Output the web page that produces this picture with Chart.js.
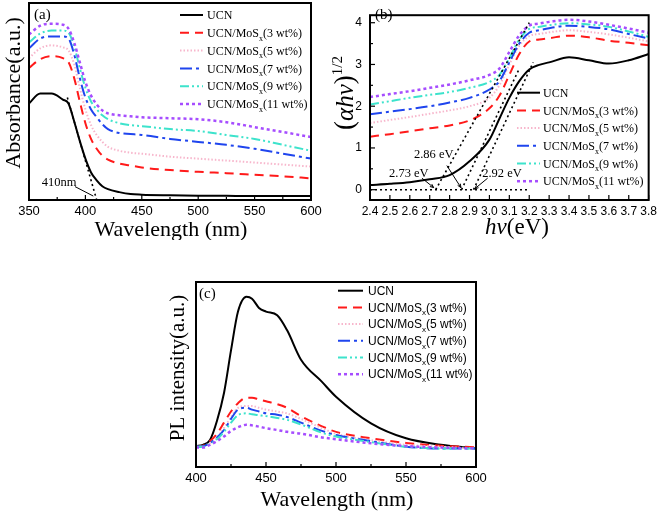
<!DOCTYPE html>
<html>
<head>
<meta charset="utf-8">
<script src="https://cdn.jsdelivr.net/npm/chart.js@4.4.1/dist/chart.umd.min.js"></script>
<style>
body { margin: 0; background: #fff; width: 661px; height: 513px; position: relative; overflow: hidden; }
canvas { position: absolute; }
</style>
</head>
<body>
<canvas id="chartA" width="330" height="240" style="left:0;top:0"></canvas>
<canvas id="chartB" width="331" height="240" style="left:330px;top:0"></canvas>
<canvas id="chartC" width="360" height="263" style="left:150px;top:250px"></canvas>
<script>
// --- data ---
const loadings = [null, 3, 5, 7, 9, 11];

// (a) UV-vis absorbance
const absWavelength = [350, 360, 370, 380, 385, 390, 395, 400, 405, 410, 415, 420, 430, 440, 450, 475, 500, 525, 550, 575, 600];
const absUCN  = [0.49, 0.54, 0.54, 0.51, 0.49, 0.40, 0.30, 0.21, 0.14, 0.10, 0.07, 0.055, 0.04, 0.03, 0.027, 0.024, 0.022, 0.021, 0.02, 0.02, 0.02];
const abs3wt  = [0.67, 0.715, 0.73, 0.72, 0.70, 0.62, 0.50, 0.39, 0.31, 0.26, 0.225, 0.205, 0.185, 0.175, 0.165, 0.152, 0.143, 0.136, 0.128, 0.12, 0.11];
const abs5wt  = [0.72, 0.77, 0.785, 0.775, 0.76, 0.69, 0.57, 0.46, 0.38, 0.33, 0.295, 0.27, 0.25, 0.24, 0.235, 0.22, 0.21, 0.2, 0.19, 0.18, 0.17];
const abs7wt  = [0.77, 0.82, 0.83, 0.83, 0.82, 0.74, 0.62, 0.52, 0.46, 0.42, 0.385, 0.36, 0.34, 0.335, 0.33, 0.31, 0.295, 0.28, 0.26, 0.235, 0.21];
const abs9wt  = [0.80, 0.845, 0.86, 0.86, 0.85, 0.78, 0.67, 0.57, 0.50, 0.46, 0.43, 0.41, 0.39, 0.38, 0.375, 0.36, 0.35, 0.33, 0.31, 0.28, 0.25];
const abs11wt = [0.84, 0.885, 0.895, 0.89, 0.87, 0.80, 0.70, 0.60, 0.53, 0.485, 0.455, 0.44, 0.43, 0.425, 0.42, 0.415, 0.41, 0.395, 0.37, 0.345, 0.32];
const absTicks = [350, 400, 450, 500, 550, 600];
const absMinor = [375, 425, 475, 525, 575];
const absEdgeLine = [[384, 0.52], [410, 0]];
const absEdgeArrow = [[390.8, 0.068], [407, 0.02]];
const absEdgeLabel = { text: '410nm', at: [376.6, 0.086] };

// (b) Tauc plot
const tauEnergy = [2.4, 2.5, 2.6, 2.7, 2.8, 2.9, 3.0, 3.05, 3.1, 3.15, 3.2, 3.25, 3.3, 3.4, 3.5, 3.6, 3.7, 3.8];
const tauUCN  = [0.11, 0.14, 0.18, 0.25, 0.35, 0.68, 1.2, 1.7, 2.2, 2.6, 2.88, 2.99, 3.05, 3.17, 3.1, 3.02, 3.1, 3.25];
const tau3wt  = [1.27, 1.33, 1.40, 1.47, 1.54, 1.66, 1.95, 2.25, 2.75, 3.25, 3.55, 3.6, 3.63, 3.69, 3.65, 3.57, 3.52, 3.46];
const tau5wt  = [1.6, 1.67, 1.74, 1.82, 1.9, 2.0, 2.2, 2.5, 3.0, 3.45, 3.68, 3.73, 3.77, 3.82, 3.78, 3.72, 3.64, 3.55];
const tau7wt  = [1.81, 1.87, 1.93, 2.0, 2.09, 2.2, 2.4, 2.6, 3.05, 3.5, 3.76, 3.82, 3.87, 3.93, 3.9, 3.84, 3.73, 3.62];
const tau9wt  = [2.04, 2.12, 2.2, 2.27, 2.34, 2.44, 2.58, 2.75, 3.15, 3.6, 3.85, 3.9, 3.94, 3.99, 3.96, 3.9, 3.79, 3.66];
const tau11wt = [2.22, 2.29, 2.36, 2.44, 2.52, 2.62, 2.75, 2.9, 3.3, 3.7, 3.93, 3.98, 4.02, 4.07, 4.03, 3.95, 3.86, 3.76];
const tauXTicks = [2.4, 2.5, 2.6, 2.7, 2.8, 2.9, 3.0, 3.1, 3.2, 3.3, 3.4, 3.5, 3.6, 3.7, 3.8];
const tauYTicks = [0, 1, 2, 3, 4];
const tauBaseline = [[2.4, 0], [3.2, 0]];
const tauTangents = [[[2.73, 0], [3.2, 4.0]], [[2.86, 0], [3.15, 2.9]], [[2.92, 0], [3.22, 3.05]]];
const tauGapLabels = ['2.73 eV', '2.86 eV', '2.92 eV'];
const tauGapLabelAt = [[2.595, 0.39], [2.72, 0.84], [3.063, 0.39]];
const tauGapArrows = [[[2.661, 0.276], [2.72, 0.05]], [[2.786, 0.578], [2.857, 0.05]], [[2.991, 0.276], [2.926, 0.02]]];

// (c) PL spectra
const plWavelength = [400, 405, 410, 415, 420, 425, 430, 436, 440, 445, 450, 458, 465, 475, 490, 500, 525, 550, 575, 600];
const plUCN  = [0.113, 0.12, 0.146, 0.25, 0.40, 0.63, 0.84, 0.92, 0.91, 0.86, 0.84, 0.82, 0.74, 0.58, 0.46, 0.38, 0.236, 0.155, 0.12, 0.10];
const pl3wt  = [0.11, 0.115, 0.14, 0.18, 0.24, 0.30, 0.345, 0.375, 0.375, 0.365, 0.355, 0.34, 0.32, 0.275, 0.22, 0.19, 0.155, 0.13, 0.115, 0.107];
const pl5wt  = [0.11, 0.112, 0.13, 0.16, 0.21, 0.27, 0.32, 0.33, 0.33, 0.32, 0.31, 0.30, 0.29, 0.26, 0.21, 0.18, 0.145, 0.12, 0.11, 0.10];
const pl7wt  = [0.11, 0.112, 0.13, 0.16, 0.20, 0.26, 0.31, 0.32, 0.31, 0.30, 0.29, 0.283, 0.27, 0.24, 0.195, 0.173, 0.14, 0.11, 0.10, 0.10];
const pl9wt  = [0.11, 0.11, 0.125, 0.15, 0.19, 0.24, 0.28, 0.29, 0.285, 0.28, 0.275, 0.265, 0.255, 0.23, 0.185, 0.165, 0.135, 0.11, 0.10, 0.10];
const pl11wt = [0.105, 0.105, 0.12, 0.14, 0.165, 0.195, 0.215, 0.228, 0.225, 0.218, 0.21, 0.20, 0.19, 0.18, 0.16, 0.15, 0.128, 0.113, 0.105, 0.10];
const plTicks = [400, 450, 500, 550, 600];
const plMinor = [425, 475, 525, 575];

// --- styles ---
const SERIF = '"Liberation Serif", "DejaVu Serif", serif';
const SANS = '"Liberation Sans", Arial, sans-serif';
const lineStyles = [
  { color: '#000000', dash: [], width: 2 },
  { color: '#ff1a1a', dash: [9, 6], width: 2 },
  { color: '#f7b6cc', dash: [1.5, 2], width: 2 },
  { color: '#1f45ee', dash: [12, 4, 3, 4], width: 2 },
  { color: '#3de3cc', dash: [9, 3, 2, 3, 2, 3], width: 2 },
  { color: '#a64dff', dash: [3, 3], width: 2.5 }
];

function makeDatasets(xs, seriesList) {
  return seriesList.map((ys, i) => ({
    data: xs.map((x, j) => ({ x: x, y: ys[j] })),
    borderColor: lineStyles[i].color,
    borderDash: lineStyles[i].dash,
    borderWidth: lineStyles[i].width,
    pointRadius: 0,
    fill: false,
    cubicInterpolationMode: 'monotone',
    order: seriesList.length - i
  }));
}

// draws a run of text pieces (for subscripts / italics)
function drawRich(ctx, parts, x, y, align) {
  let total = 0;
  parts.forEach(p => { ctx.font = p.font; total += ctx.measureText(p.t).width; });
  let cx = align === 'center' ? x - total / 2 : x;
  ctx.textAlign = 'left';
  ctx.textBaseline = 'alphabetic';
  parts.forEach(p => {
    ctx.font = p.font;
    ctx.fillText(p.t, cx, y + (p.dy || 0));
    cx += ctx.measureText(p.t).width;
  });
}

function legendParts(i, family, size) {
  if (loadings[i] === null) return [{ t: 'UCN', font: size + 'px ' + family }];
  return [
    { t: 'UCN/MoS', font: size + 'px ' + family },
    { t: 'x', font: Math.round(size * 0.65) + 'px ' + family, dy: size * 0.3 },
    { t: '(' + loadings[i] + ' wt%)', font: size + 'px ' + family }
  ];
}

const framePlugin = {
  id: 'frame',
  afterDatasetsDraw(chart, args, opts) {
    const { ctx, chartArea: a, scales } = chart;
    ctx.save();
    ctx.strokeStyle = '#000';
    ctx.lineWidth = 1.2;
    const tick = (vals, len, axis) => vals.forEach(v => {
      ctx.beginPath();
      if (axis === 'x') {
        const px = scales.x.getPixelForValue(v);
        ctx.moveTo(px, a.bottom); ctx.lineTo(px, a.bottom - len);
      } else {
        const py = scales.y.getPixelForValue(v);
        ctx.moveTo(a.left, py); ctx.lineTo(a.left + len, py);
      }
      ctx.stroke();
    });
    tick(opts.xMajor || [], 5, 'x');
    tick(opts.xMinor || [], 3, 'x');
    tick(opts.yMajor || [], 5, 'y');
    tick(opts.yMinor || [], 3, 'y');
    ctx.lineWidth = 2;
    ctx.strokeRect(a.left, a.top, a.right - a.left, a.bottom - a.top);
    ctx.restore();
  }
};

const legendPlugin = {
  id: 'richLegend',
  afterDraw(chart, args, o) {
    const ctx = chart.ctx;
    ctx.save();
    chart.data.datasets.forEach((ds, i) => {
      const y = o.y + i * o.dy;
      ctx.beginPath();
      ctx.strokeStyle = ds.borderColor;
      ctx.lineWidth = ds.borderWidth;
      ctx.setLineDash(ds.borderDash);
      ctx.moveTo(o.x0, y); ctx.lineTo(o.x1, y);
      ctx.stroke();
      ctx.setLineDash([]);
      ctx.fillStyle = '#000';
      drawRich(ctx, legendParts(i, o.family, o.size), o.tx, y + o.size * 0.35, 'left');
    });
    ctx.restore();
  }
};

const titlesPlugin = {
  id: 'titles',
  afterDraw(chart, args, o) {
    const ctx = chart.ctx;
    ctx.save();
    ctx.fillStyle = '#000';
    (o.items || []).forEach(it => {
      ctx.save();
      ctx.translate(it.x, it.y);
      if (it.rotate) ctx.rotate(-Math.PI / 2);
      drawRich(ctx, it.parts, 0, 0, it.align || 'center');
      ctx.restore();
    });
    ctx.restore();
  }
};

const notesPlugin = {
  id: 'notes',
  afterDatasetsDraw(chart, args, o) {
    const { ctx, scales: { x, y } } = chart;
    const P = p => [x.getPixelForValue(p[0]), y.getPixelForValue(p[1])];
    ctx.save();
    (o.dotted || []).forEach(seg => {
      const a = P(seg[0]), b = P(seg[1]);
      ctx.beginPath();
      ctx.strokeStyle = '#000'; ctx.lineWidth = 1.6; ctx.setLineDash([2, 3]);
      ctx.moveTo(a[0], a[1]); ctx.lineTo(b[0], b[1]); ctx.stroke();
    });
    ctx.setLineDash([]);
    (o.arrows || []).forEach(seg => {
      const a = P(seg[0]), b = P(seg[1]);
      ctx.beginPath();
      ctx.strokeStyle = '#000'; ctx.lineWidth = 1;
      ctx.moveTo(a[0], a[1]); ctx.lineTo(b[0], b[1]); ctx.stroke();
      const ang = Math.atan2(b[1] - a[1], b[0] - a[0]);
      ctx.beginPath();
      ctx.moveTo(b[0], b[1]);
      ctx.lineTo(b[0] - 4 * Math.cos(ang - 0.4), b[1] - 4 * Math.sin(ang - 0.4));
      ctx.moveTo(b[0], b[1]);
      ctx.lineTo(b[0] - 4 * Math.cos(ang + 0.4), b[1] - 4 * Math.sin(ang + 0.4));
      ctx.stroke();
    });
    (o.lines || []).forEach(seg => {
      const a = P(seg[0]), b = P(seg[1]);
      ctx.beginPath();
      ctx.strokeStyle = '#000'; ctx.lineWidth = 1;
      ctx.moveTo(a[0], a[1]); ctx.lineTo(b[0], b[1]); ctx.stroke();
    });
    ctx.fillStyle = '#000';
    ctx.font = o.font;
    ctx.textAlign = 'center';
    ctx.textBaseline = 'middle';
    (o.labels || []).forEach(l => {
      const p = P(l.at);
      ctx.fillText(l.text, p[0], p[1]);
    });
    ctx.restore();
  }
};

function scalesFor(xMin, xMax, xTicks, xFmt, yMin, yMax, yTicks, yW, xH, tickSize) {
  return {
    x: {
      type: 'linear', min: xMin, max: xMax,
      afterBuildTicks: s => { s.ticks = xTicks.map(v => ({ value: v })); },
      afterFit: s => { s.height = xH; },
      grid: { display: false, drawTicks: false },
      border: { display: false },
      ticks: { color: '#000', padding: 4, maxRotation: 0, autoSkip: false, font: { family: SANS, size: tickSize }, callback: xFmt }
    },
    y: {
      type: 'linear', min: yMin, max: yMax,
      afterBuildTicks: s => { s.ticks = yTicks.map(v => ({ value: v })); },
      afterFit: s => { s.width = yW; },
      grid: { display: false, drawTicks: false },
      border: { display: false },
      ticks: { display: yTicks.length > 0, color: '#000', padding: 8, font: { family: SANS, size: tickSize } }
    }
  };
}

const common = { responsive: false, animation: false, devicePixelRatio: 1, events: [] };

// (a)
new Chart(document.getElementById('chartA'), {
  type: 'line',
  data: { datasets: makeDatasets(absWavelength, [absUCN, abs3wt, abs5wt, abs7wt, abs9wt, abs11wt]) },
  options: Object.assign({}, common, {
    layout: { padding: { top: 3, right: 19, left: 0, bottom: 0 } },
    scales: scalesFor(350, 600, absTicks, v => v, 0, 1, [], 29, 40, 13),
    plugins: {
      legend: { display: false }, tooltip: { enabled: false },
      frame: { xMajor: absTicks, xMinor: absMinor },
      richLegend: { x0: 180, x1: 203, tx: 207, y: 15, dy: 17.8, family: SERIF, size: 12 },
      notes: { dotted: [absEdgeLine], lines: [absEdgeArrow], labels: [absEdgeLabel], font: '12.5px ' + SERIF },
      titles: { items: [
        { x: 12, y: 93, rotate: true, parts: [{ t: 'Absorbance(a.u.)', font: '22px ' + SERIF, dy: 8 }] },
        { x: 171, y: 236, parts: [{ t: 'Wavelength (nm)', font: '22px ' + SERIF }] },
        { x: 34, y: 19, align: 'left', parts: [{ t: '(a)', font: '15px ' + SERIF }] }
      ] }
    }
  }),
  plugins: [framePlugin, legendPlugin, titlesPlugin, notesPlugin]
});

// (b)
new Chart(document.getElementById('chartB'), {
  type: 'line',
  data: { datasets: makeDatasets(tauEnergy, [tauUCN, tau3wt, tau5wt, tau7wt, tau9wt, tau11wt]) },
  options: Object.assign({}, common, {
    layout: { padding: { top: 3, right: 7, left: 0, bottom: 0 } },
    scales: scalesFor(2.4, 3.8, tauXTicks, v => v.toFixed(1), -0.247, 4.18, tauYTicks, 40, 40, 12),
    plugins: {
      legend: { display: false }, tooltip: { enabled: false },
      frame: { xMajor: tauXTicks, yMajor: tauYTicks, yMinor: [0.5, 1.5, 2.5, 3.5] },
      richLegend: { x0: 187, x1: 210, tx: 213, y: 92.7, dy: 17.7, family: SERIF, size: 12 },
      notes: {
        dotted: [tauBaseline].concat(tauTangents),
        arrows: tauGapArrows,
        labels: tauGapLabels.map((t, i) => ({ text: t, at: tauGapLabelAt[i] })),
        font: '12.5px ' + SERIF
      },
      titles: { items: [
        { x: 15, y: 93, rotate: true, parts: [
          { t: '(', font: '27px ' + SERIF, dy: 8 },
          { t: 'αhν', font: 'italic 25px ' + SERIF, dy: 8 },
          { t: ')', font: '27px ' + SERIF, dy: 8 },
          { t: '1/2', font: '15px ' + SERIF, dy: -3 }
        ] },
        { x: 187, y: 234, parts: [
          { t: 'hν', font: 'italic 23px ' + SERIF },
          { t: '(eV)', font: '23px ' + SERIF }
        ] },
        { x: 45, y: 19, align: 'left', parts: [{ t: '(b)', font: '15px ' + SERIF }] }
      ] }
    }
  }),
  plugins: [framePlugin, legendPlugin, titlesPlugin, notesPlugin]
});

// (c)
new Chart(document.getElementById('chartC'), {
  type: 'line',
  data: { datasets: makeDatasets(plWavelength, [plUCN, pl3wt, pl5wt, pl7wt, pl9wt, pl11wt]) },
  options: Object.assign({}, common, {
    layout: { padding: { top: 32, right: 34, left: 0, bottom: 0 } },
    scales: scalesFor(400, 600, plTicks, v => v, 0, 1, [], 46, 46, 13),
    plugins: {
      legend: { display: false }, tooltip: { enabled: false },
      frame: { xMajor: plTicks, xMinor: plMinor },
      richLegend: { x0: 188, x1: 213, tx: 218, y: 40.7, dy: 16.7, family: SANS, size: 12 },
      titles: { items: [
        { x: 27, y: 118, rotate: true, parts: [{ t: 'PL intensity(a.u.)', font: '21px ' + SERIF, dy: 7 }] },
        { x: 187, y: 256, parts: [{ t: 'Wavelength (nm)', font: '22px ' + SERIF }] },
        { x: 49, y: 48, align: 'left', parts: [{ t: '(c)', font: '15px ' + SERIF }] }
      ] }
    }
  }),
  plugins: [framePlugin, legendPlugin, titlesPlugin]
});
</script>
</body>
</html>
